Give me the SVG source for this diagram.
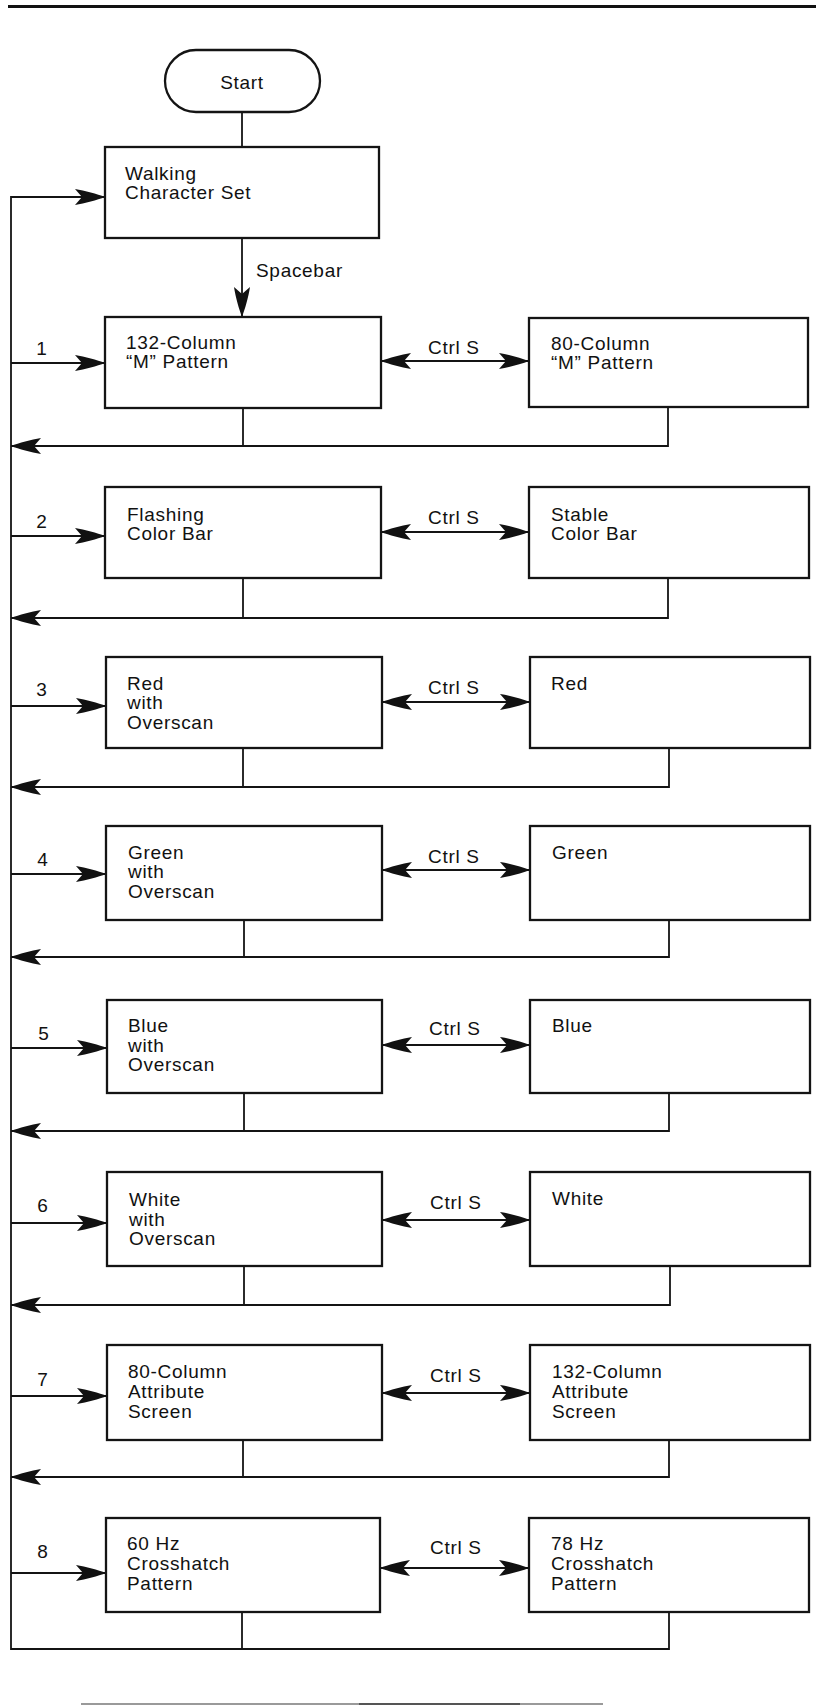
<svg xmlns="http://www.w3.org/2000/svg" width="816" height="1706" viewBox="0 0 816 1706">
<style>
  .box { fill: #fff; stroke: #141414; stroke-width: 2.3; }
  .ln { fill: none; stroke: #141414; stroke-width: 1.8; }
  text { font-family: "Liberation Sans", Arial, Helvetica, sans-serif; font-size: 19px; letter-spacing: 0.7px; fill: #111; }
  .mid { text-anchor: middle; }
</style>
<defs>
  <marker id="ah" markerUnits="userSpaceOnUse" viewBox="0 0 30 16" refX="30" refY="8" markerWidth="30" markerHeight="16" orient="auto-start-reverse">
    <path d="M30,8 C22,5 10,1.5 0,0 L7,8 L0,16 C10,14.5 22,11 30,8 Z" fill="#111"/>
  </marker>
</defs>
<rect width="816" height="1706" fill="#fff"/>
<line x1="8" y1="6.5" x2="816" y2="6.5" stroke="#111" stroke-width="3"/>
<line x1="81" y1="1704" x2="603" y2="1704" stroke="#9a9a9a" stroke-width="2"/>
<line x1="359" y1="1704" x2="520" y2="1704" stroke="#555" stroke-width="2"/>

<g id="connectors">
  <path class="ln" d="M242,112 V147"/>
  <path class="ln" d="M242,238 V317" marker-end="url(#ah)"/>
  <path class="ln" d="M669,1612 V1649 H11 V197 H105" marker-end="url(#ah)"/>
  <path class="ln" d="M242,1612 V1649"/>
  <!-- row 1 -->
  <path class="ln" d="M11,363 H105" marker-end="url(#ah)"/>
  <path class="ln" d="M381,361 H529" marker-start="url(#ah)" marker-end="url(#ah)"/>
  <path class="ln" d="M243,408 V446"/>
  <path class="ln" d="M668,407 V446 H11" marker-end="url(#ah)"/>
  <!-- row 2 -->
  <path class="ln" d="M11,536 H105" marker-end="url(#ah)"/>
  <path class="ln" d="M381,532 H529" marker-start="url(#ah)" marker-end="url(#ah)"/>
  <path class="ln" d="M243,578 V618"/>
  <path class="ln" d="M668,578 V618 H11" marker-end="url(#ah)"/>
  <!-- row 3 -->
  <path class="ln" d="M11,706 H106" marker-end="url(#ah)"/>
  <path class="ln" d="M382,702 H530" marker-start="url(#ah)" marker-end="url(#ah)"/>
  <path class="ln" d="M243,748 V787"/>
  <path class="ln" d="M669,748 V787 H11" marker-end="url(#ah)"/>
  <!-- row 4 -->
  <path class="ln" d="M11,874 H106" marker-end="url(#ah)"/>
  <path class="ln" d="M382,870 H530" marker-start="url(#ah)" marker-end="url(#ah)"/>
  <path class="ln" d="M244,920 V957"/>
  <path class="ln" d="M669,920 V957 H11" marker-end="url(#ah)"/>
  <!-- row 5 -->
  <path class="ln" d="M11,1048 H107" marker-end="url(#ah)"/>
  <path class="ln" d="M382,1045 H530" marker-start="url(#ah)" marker-end="url(#ah)"/>
  <path class="ln" d="M244,1093 V1131"/>
  <path class="ln" d="M669,1093 V1131 H11" marker-end="url(#ah)"/>
  <!-- row 6 -->
  <path class="ln" d="M11,1223 H107" marker-end="url(#ah)"/>
  <path class="ln" d="M382,1220 H530" marker-start="url(#ah)" marker-end="url(#ah)"/>
  <path class="ln" d="M244,1266 V1305"/>
  <path class="ln" d="M670,1266 V1305 H11" marker-end="url(#ah)"/>
  <!-- row 7 -->
  <path class="ln" d="M11,1396 H107" marker-end="url(#ah)"/>
  <path class="ln" d="M382,1393 H530" marker-start="url(#ah)" marker-end="url(#ah)"/>
  <path class="ln" d="M243,1440 V1477"/>
  <path class="ln" d="M669,1440 V1477 H11" marker-end="url(#ah)"/>
  <!-- row 8 -->
  <path class="ln" d="M11,1573 H106" marker-end="url(#ah)"/>
  <path class="ln" d="M380,1568 H529" marker-start="url(#ah)" marker-end="url(#ah)"/>
</g>

<g id="labels">
  <text x="256" y="277">Spacebar</text>
  <text x="42" y="355" class="mid">1</text>
  <text x="42" y="528" class="mid">2</text>
  <text x="42" y="696" class="mid">3</text>
  <text x="43" y="866" class="mid">4</text>
  <text x="44" y="1040" class="mid">5</text>
  <text x="43" y="1212" class="mid">6</text>
  <text x="43" y="1386" class="mid">7</text>
  <text x="43" y="1558" class="mid">8</text>
  <text x="428" y="354">Ctrl S</text>
  <text x="428" y="524">Ctrl S</text>
  <text x="428" y="694">Ctrl S</text>
  <text x="428" y="863">Ctrl S</text>
  <text x="429" y="1035">Ctrl S</text>
  <text x="430" y="1209">Ctrl S</text>
  <text x="430" y="1382">Ctrl S</text>
  <text x="430" y="1554">Ctrl S</text>
</g>

<g id="start">
  <rect x="165" y="50" width="155" height="62" rx="31" ry="31" class="box"/>
  <text x="242" y="89" class="mid">Start</text>
</g>

<g id="walking">
  <rect x="105" y="147" width="274" height="91" class="box"/>
  <text x="125" y="180">Walking</text>
  <text x="125" y="199">Character Set</text>
</g>

<g id="m132">
  <rect x="105" y="317" width="276" height="91" class="box"/>
  <text x="126" y="349">132-Column</text>
  <text x="126" y="368">“M” Pattern</text>
</g>
<g id="m80">
  <rect x="529" y="318" width="279" height="89" class="box"/>
  <text x="551" y="350">80-Column</text>
  <text x="551" y="369">“M” Pattern</text>
</g>

<g id="flashing">
  <rect x="105" y="487" width="276" height="91" class="box"/>
  <text x="127" y="521">Flashing</text>
  <text x="127" y="540">Color Bar</text>
</g>
<g id="stable">
  <rect x="529" y="487" width="280" height="91" class="box"/>
  <text x="551" y="521">Stable</text>
  <text x="551" y="540">Color Bar</text>
</g>

<g id="redover">
  <rect x="106" y="657" width="276" height="91" class="box"/>
  <text x="127" y="690">Red</text>
  <text x="127" y="709">with</text>
  <text x="127" y="729">Overscan</text>
</g>
<g id="red">
  <rect x="530" y="657" width="280" height="91" class="box"/>
  <text x="551" y="690">Red</text>
</g>

<g id="greenover">
  <rect x="106" y="826" width="276" height="94" class="box"/>
  <text x="128" y="859">Green</text>
  <text x="128" y="878">with</text>
  <text x="128" y="898">Overscan</text>
</g>
<g id="green">
  <rect x="530" y="826" width="280" height="94" class="box"/>
  <text x="552" y="859">Green</text>
</g>

<g id="blueover">
  <rect x="107" y="1000" width="275" height="93" class="box"/>
  <text x="128" y="1032">Blue</text>
  <text x="128" y="1052">with</text>
  <text x="128" y="1071">Overscan</text>
</g>
<g id="blue">
  <rect x="530" y="1000" width="280" height="93" class="box"/>
  <text x="552" y="1032">Blue</text>
</g>

<g id="whiteover">
  <rect x="107" y="1172" width="275" height="94" class="box"/>
  <text x="129" y="1206">White</text>
  <text x="129" y="1226">with</text>
  <text x="129" y="1245">Overscan</text>
</g>
<g id="white">
  <rect x="530" y="1172" width="280" height="94" class="box"/>
  <text x="552" y="1205">White</text>
</g>

<g id="attr80">
  <rect x="107" y="1345" width="275" height="95" class="box"/>
  <text x="128" y="1378">80-Column</text>
  <text x="128" y="1398">Attribute</text>
  <text x="128" y="1418">Screen</text>
</g>
<g id="attr132">
  <rect x="530" y="1345" width="280" height="95" class="box"/>
  <text x="552" y="1378">132-Column</text>
  <text x="552" y="1398">Attribute</text>
  <text x="552" y="1418">Screen</text>
</g>

<g id="hz60">
  <rect x="106" y="1518" width="274" height="94" class="box"/>
  <text x="127" y="1550">60 Hz</text>
  <text x="127" y="1570">Crosshatch</text>
  <text x="127" y="1590">Pattern</text>
</g>
<g id="hz78">
  <rect x="529" y="1518" width="280" height="94" class="box"/>
  <text x="551" y="1550">78 Hz</text>
  <text x="551" y="1570">Crosshatch</text>
  <text x="551" y="1590">Pattern</text>
</g>
</svg>
